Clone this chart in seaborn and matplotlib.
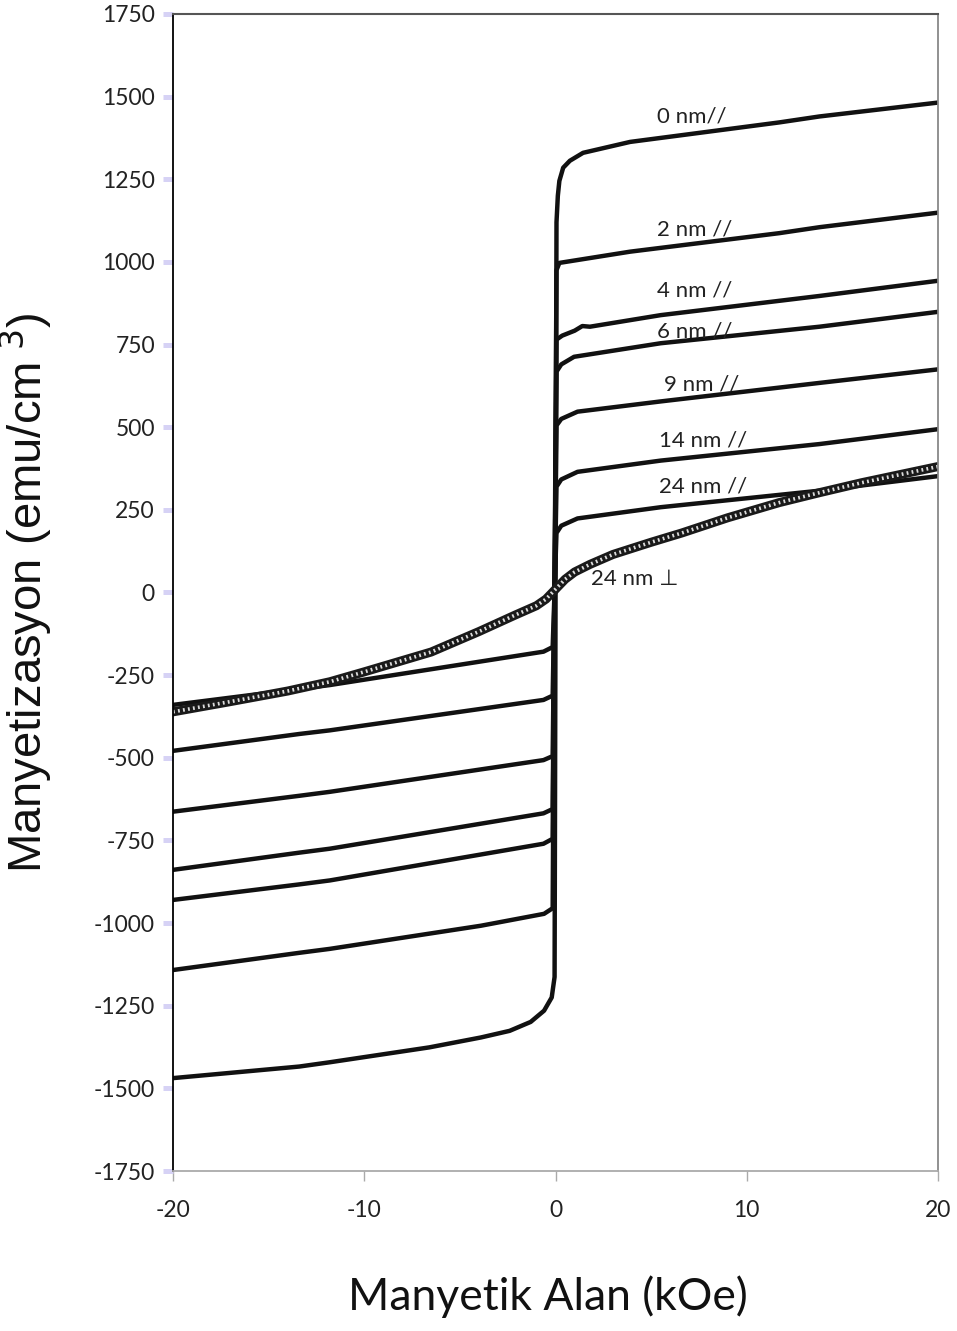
import seaborn as sns
import matplotlib.pyplot as plt
import numpy as np
import pandas as pd

sns.set_style('white')
plt.rcParams['font.family'] = ['Lato', 'DejaVu Sans']
plt.rcParams['axes.unicode_minus'] = False

# readings: field (kOe) and magnetisation (emu/cm3)
h_0nm = [-20, -13.4, -11.8, -6.6, -3.9, -2.4, -1.3, -0.6, -0.2, -0.05,
         0.05, 0.12, 0.2, 0.4, 0.75, 1.44, 3.9, 11.7, 13.8, 20]
m_0nm = [-1469, -1434, -1421, -1376, -1346, -1326, -1299, -1265, -1225, -1163,
         1120, 1200, 1245, 1285, 1306, 1330, 1363, 1422, 1440, 1482]

h_2nm = [-20, -13.4, -11.8, -3.9, -0.6, -0.15, 0.05, 0.2, 3.9, 11.7, 13.8, 20]
m_2nm = [-1142, -1090, -1078, -1008, -972, -955, 975, 997, 1031, 1087, 1105, 1149]

h_4nm = [-20, -13.4, -11.8, -0.63, -0.15, 0.05, 0.35, 1.0, 1.4, 1.8, 5.5, 13.8, 20]
m_4nm = [-930, -883, -871, -760, -745, 765, 777, 792, 806, 804, 839, 897, 943]

h_6nm = [-20, -13.4, -11.8, -0.63, -0.15, 0.05, 0.3, 0.97, 5.5, 13.8, 20]
m_6nm = [-839, -787, -775, -668, -655, 668, 690, 713, 754, 804, 849]

h_9nm = [-20, -13.4, -11.8, -0.63, -0.15, 0.05, 0.3, 1.15, 5.5, 13.8, 20]
m_9nm = [-663, -615, -603, -507, -495, 505, 525, 547, 578, 634, 675]

h_14nm = [-20, -13.4, -11.8, -0.63, -0.15, 0.05, 0.3, 1.15, 5.5, 13.8, 20]
m_14nm = [-479, -428, -417, -325, -312, 320, 342, 365, 399, 449, 494]

h_24nm = [-20, -11.8, -0.63, -0.15, 0.05, 0.3, 1.15, 5.5, 13.8, 20]
m_24nm = [-340, -280, -179, -165, 180, 202, 224, 258, 308, 352]

h_24perp = [-20, -17, -14, -11.8, -10, -6.5, -4, -2.1, -1, -0.5, 0, 0.5, 1,
            1.8, 3, 5, 6.6, 9, 11.7, 13.8, 16, 20]
m_24perp = [-361, -330, -298, -270, -240, -180, -118, -68, -40, -20, 10, 40, 62,
            85, 115, 152, 180, 226, 272, 302, 332, 381]

labels = ['0 nm//', '2 nm //', '4 nm //', '6 nm //', '9 nm //', '14 nm //', '24 nm //']
label_x = [5.31, 5.31, 5.31, 5.31, 5.67, 5.41, 5.41]
label_y = [1441, 1098, 914, 788, 628, 461, 320]

curves = [(h_0nm, m_0nm), (h_2nm, m_2nm), (h_4nm, m_4nm), (h_6nm, m_6nm),
          (h_9nm, m_9nm), (h_14nm, m_14nm), (h_24nm, m_24nm)]

fig = plt.figure(figsize=(9.57, 13.31), dpi=100)
ax = fig.add_axes([0.1808, 0.1202, 0.7994, 0.8693])

for h, m in curves:
    sns.lineplot(x=h, y=m, sort=False, color='#111111', lw=3.2, ax=ax)

# perpendicular curve: thick stippled band
sns.lineplot(x=h_24perp, y=m_24perp, sort=False, color='#1a1a1a', lw=6.5, ax=ax)
sns.lineplot(x=h_24perp, y=m_24perp, sort=False, color='white', lw=2.6,
             linestyle=(0, (0.5, 0.9)), alpha=0.85, ax=ax)

for txt, lx, ly in zip(labels, label_x, label_y):
    ax.text(lx, ly, txt, fontsize=16, color='#222222', va='center', ha='left')
ax.text(1.87, 42, '24 nm \u22a5', fontsize=16, color='#222222', va='center', ha='left')

ax.set_xlim(-20, 20)
ax.set_ylim(-1750, 1750)
ax.set_xticks([-20, -10, 0, 10, 20])
ax.set_yticks(np.arange(-1750, 1751, 250))

ax.tick_params(axis='y', direction='out', length=7, width=3.6, color='#d6d2f5',
               pad=6, labelsize=16.5, labelcolor='#222222')
ax.tick_params(axis='x', direction='out', length=7, width=1, color='#aaaaaa',
               pad=14, labelsize=16.5, labelcolor='#222222')
ax.tick_params(left=True, bottom=True)

ax.spines['left'].set_color('black')
ax.spines['left'].set_linewidth(1.3)
ax.spines['top'].set_color('#555555')
ax.spines['top'].set_linewidth(1.5)
ax.spines['right'].set_color('#888888')
ax.spines['right'].set_linewidth(1.3)
ax.spines['bottom'].set_color('#aaaaaa')
ax.spines['bottom'].set_linewidth(1.3)

ax.set_xlabel('Manyetik Alan (kOe)', fontsize=32, color='#111111')
ax.xaxis.set_label_coords(0.49, -0.09)
ax.set_ylabel('Manyetizasyon (emu/cm$^{\\ 3}$)', fontsize=34, color='#111111',
              family=['Liberation Sans', 'DejaVu Sans'])
ax.yaxis.set_label_coords(-0.155, 0.5)

plt.savefig('out.png', dpi=100)
